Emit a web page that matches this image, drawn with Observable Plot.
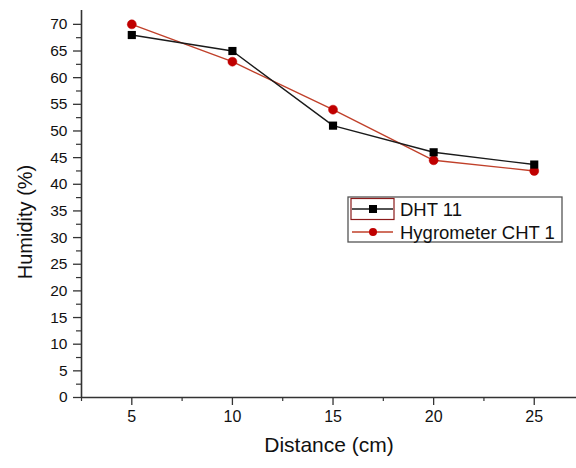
<!DOCTYPE html>
<html>
<head>
<meta charset="utf-8">
<script src="https://cdn.jsdelivr.net/npm/d3@7"></script>
<script src="https://cdn.jsdelivr.net/npm/@observablehq/plot@0.6"></script>
<style>
  html, body { margin: 0; padding: 0; background: #fff; }
  #chart { width: 576px; height: 468px; position: relative; }
</style>
</head>
<body>
<div id="chart"></div>
<script>
const distance = [5, 10, 15, 20, 25];
const dht11 = [68, 65, 51, 46, 43.7];
const hygrometer = [70, 63, 54, 44.5, 42.5];
const seriesNames = ["DHT 11", "Hygrometer CHT 1"];
const xTicks = [5, 10, 15, 20, 25];
const yTicks = d3.range(0, 75, 5);

const dhtData = distance.map((d, i) => ({x: d, y: dht11[i]}));
const hygData = distance.map((d, i) => ({x: d, y: hygrometer[i]}));

const font = "Liberation Sans, Arial, Helvetica, sans-serif";
const axisColor = "#333";
const redLine = "#c0402a";
const redFill = "#c00000";

const chart = Plot.plot({
  width: 576,
  height: 468,
  marginLeft: 81,
  marginTop: 10,
  marginBottom: 71,
  marginRight: 0,
  style: {fontFamily: font, background: "#fff", color: "#111"},
  x: {domain: [2.5, 27.1]},
  y: {domain: [0, 72.6]},
  marks: [
    Plot.axisY({ticks: yTicks, tickSize: 8, tickPadding: 6, fontSize: 15.5, label: null, stroke: axisColor, strokeWidth: 1.3, style: {letterSpacing: "1.8px"}}),
    Plot.axisY({ticks: d3.range(2.5, 72.5, 5), tickSize: 5, text: null, label: null, stroke: axisColor, strokeWidth: 1.2}),
    Plot.axisX({ticks: xTicks, tickSize: 8, tickPadding: 5, fontSize: 16, label: null, stroke: axisColor, strokeWidth: 1.3, style: {letterSpacing: "1px"}}),
    Plot.axisX({ticks: [2.5, 7.5, 12.5, 17.5, 22.5], tickSize: 4, text: null, label: null, stroke: axisColor, strokeWidth: 1.2}),
    Plot.ruleX([2.5], {stroke: axisColor, strokeWidth: 1.6}),
    Plot.ruleY([0], {stroke: axisColor, strokeWidth: 1.6}),
    Plot.text(["Humidity (%)"], {frameAnchor: "left", rotate: -90, dx: -56, dy: 18, textAnchor: "middle", fontSize: 20, fill: "#111", style: {letterSpacing: "2px"}}),
    Plot.text(["Distance (cm)"], {frameAnchor: "bottom", dy: 54, fontSize: 21, fill: "#111", style: {letterSpacing: "2.2px"}}),
    Plot.line(hygData, {x: "x", y: "y", stroke: redLine, strokeWidth: 1.4}),
    Plot.line(dhtData, {x: "x", y: "y", stroke: "#1a1a1a", strokeWidth: 1.4}),
    Plot.dot(hygData, {x: "x", y: "y", r: 4.5, fill: redFill, stroke: redFill, strokeWidth: 0.5}),
    Plot.dot(dhtData, {x: "x", y: "y", symbol: "square", r: 4.6, fill: "#000"})
  ]
});

document.getElementById("chart").appendChild(chart);

// Legend (drawn into the same SVG)
const svg = d3.select(chart);
const lg = svg.append("g").attr("font-family", font).attr("font-size", 18.5).attr("fill", "#111").attr("text-anchor", "start");
lg.append("rect").attr("x", 348).attr("y", 197).attr("width", 214).attr("height", 45)
  .attr("fill", "#fff").attr("stroke", "#555").attr("stroke-width", 1.3);
lg.append("rect").attr("x", 351).attr("y", 198.5).attr("width", 43).attr("height", 21)
  .attr("fill", "none").attr("stroke", "#8b1a1a").attr("stroke-width", 1.2);
// row 1
lg.append("line").attr("x1", 352).attr("x2", 393).attr("y1", 209).attr("y2", 209).attr("stroke", "#1a1a1a").attr("stroke-width", 1.4);
lg.append("rect").attr("x", 369).attr("y", 205).attr("width", 8).attr("height", 8).attr("fill", "#000");
lg.append("text").attr("x", 400).attr("y", 209).attr("dy", "0.36em").text(seriesNames[0]);
// row 2
lg.append("line").attr("x1", 352).attr("x2", 393).attr("y1", 232).attr("y2", 232).attr("stroke", redLine).attr("stroke-width", 1.4);
lg.append("circle").attr("cx", 373).attr("cy", 232).attr("r", 4).attr("fill", redFill);
lg.append("text").attr("x", 400).attr("y", 232).attr("dy", "0.36em").text(seriesNames[1]);
</script>
</body>
</html>
